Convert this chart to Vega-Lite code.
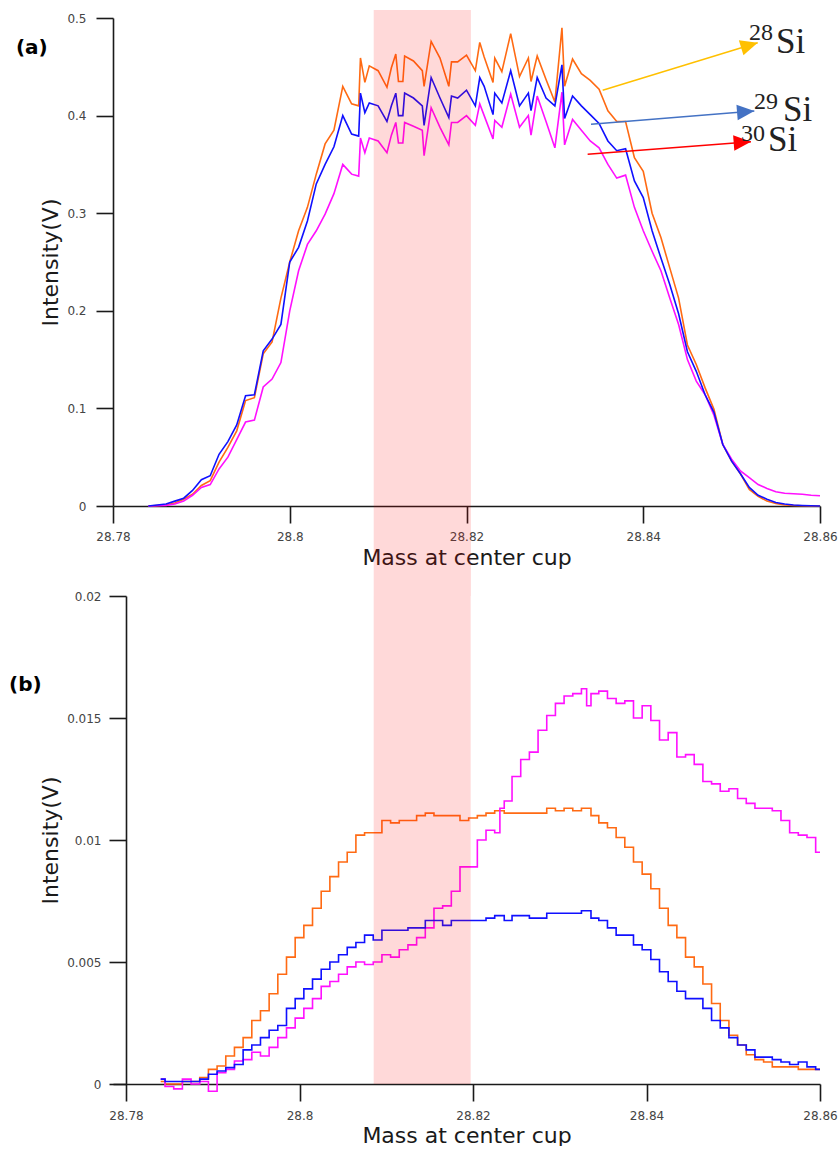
{
  "$schema": "https://vega.github.io/schema/vega-lite/v6.json",
  "padding": {"left": 8, "top": 9, "right": 0, "bottom": 0},
  "bounds": "flush",
  "spacing": 90,
  "config": {
    "view": {"stroke": null},
    "font": "DejaVu Sans",
    "axis": {
      "grid": false,
      "domainColor": "#1a1a1a",
      "domainWidth": 1.6,
      "tickColor": "#1a1a1a",
      "tickWidth": 1.6,
      "tickSize": 17,
      "labelFont": "DejaVu Sans",
      "labelFontSize": 12,
      "labelColor": "#444444",
      "titleFont": "DejaVu Sans",
      "titleFontSize": 22,
      "titleFontWeight": "normal",
      "titleColor": "#1a1a1a"
    }
  },
  "datasets": {
    "a": [
      {"m": 28.784, "Si28": 0, "Si29": 0, "Si30": 0},
      {"m": 28.785, "Si28": 0.0005, "Si29": 0.001, "Si30": 0.0002},
      {"m": 28.786, "Si28": 0.001, "Si29": 0.002, "Si30": 0.0005},
      {"m": 28.787, "Si28": 0.003, "Si29": 0.005, "Si30": 0.002},
      {"m": 28.788, "Si28": 0.007, "Si29": 0.008, "Si30": 0.005},
      {"m": 28.789, "Si28": 0.012, "Si29": 0.016, "Si30": 0.011},
      {"m": 28.790, "Si28": 0.021, "Si29": 0.027, "Si30": 0.019},
      {"m": 28.791, "Si28": 0.026, "Si29": 0.031, "Si30": 0.022},
      {"m": 28.792, "Si28": 0.045, "Si29": 0.053, "Si30": 0.038},
      {"m": 28.793, "Si28": 0.060, "Si29": 0.066, "Si30": 0.050},
      {"m": 28.794, "Si28": 0.077, "Si29": 0.083, "Si30": 0.068},
      {"m": 28.795, "Si28": 0.108, "Si29": 0.113, "Si30": 0.086},
      {"m": 28.796, "Si28": 0.111, "Si29": 0.114, "Si30": 0.088},
      {"m": 28.797, "Si28": 0.156, "Si29": 0.159, "Si30": 0.122},
      {"m": 28.798, "Si28": 0.168, "Si29": 0.171, "Si30": 0.130},
      {"m": 28.799, "Si28": 0.213, "Si29": 0.186, "Si30": 0.147},
      {"m": 28.800, "Si28": 0.250, "Si29": 0.250, "Si30": 0.200},
      {"m": 28.801, "Si28": 0.282, "Si29": 0.265, "Si30": 0.241},
      {"m": 28.802, "Si28": 0.306, "Si29": 0.292, "Si30": 0.268},
      {"m": 28.803, "Si28": 0.340, "Si29": 0.330, "Si30": 0.282},
      {"m": 28.804, "Si28": 0.371, "Si29": 0.350, "Si30": 0.299},
      {"m": 28.805, "Si28": 0.385, "Si29": 0.368, "Si30": 0.320},
      {"m": 28.806, "Si28": 0.430, "Si29": 0.400, "Si30": 0.350},
      {"m": 28.807, "Si28": 0.412, "Si29": 0.381, "Si30": 0.340},
      {"m": 28.8078, "Si28": 0.410, "Si29": 0.379, "Si30": 0.338},
      {"m": 28.808, "Si28": 0.459, "Si29": 0.423, "Si30": 0.377},
      {"m": 28.8085, "Si28": 0.434, "Si29": 0.403, "Si30": 0.362},
      {"m": 28.809, "Si28": 0.451, "Si29": 0.413, "Si30": 0.377},
      {"m": 28.810, "Si28": 0.446, "Si29": 0.410, "Si30": 0.374},
      {"m": 28.811, "Si28": 0.429, "Si29": 0.394, "Si30": 0.362},
      {"m": 28.8115, "Si28": 0.449, "Si29": 0.410, "Si30": 0.380},
      {"m": 28.812, "Si28": 0.463, "Si29": 0.423, "Si30": 0.393},
      {"m": 28.8123, "Si28": 0.435, "Si29": 0.400, "Si30": 0.372},
      {"m": 28.8128, "Si28": 0.435, "Si29": 0.400, "Si30": 0.372},
      {"m": 28.813, "Si28": 0.461, "Si29": 0.423, "Si30": 0.393},
      {"m": 28.814, "Si28": 0.456, "Si29": 0.418, "Si30": 0.389},
      {"m": 28.815, "Si28": 0.446, "Si29": 0.410, "Si30": 0.385},
      {"m": 28.8152, "Si28": 0.430, "Si29": 0.390, "Si30": 0.359},
      {"m": 28.816, "Si28": 0.476, "Si29": 0.439, "Si30": 0.408},
      {"m": 28.817, "Si28": 0.459, "Si29": 0.418, "Si30": 0.388},
      {"m": 28.818, "Si28": 0.430, "Si29": 0.398, "Si30": 0.370},
      {"m": 28.8183, "Si28": 0.455, "Si29": 0.420, "Si30": 0.393},
      {"m": 28.819, "Si28": 0.455, "Si29": 0.418, "Si30": 0.393},
      {"m": 28.820, "Si28": 0.462, "Si29": 0.426, "Si30": 0.400},
      {"m": 28.821, "Si28": 0.446, "Si29": 0.410, "Si30": 0.390},
      {"m": 28.8215, "Si28": 0.475, "Si29": 0.439, "Si30": 0.412},
      {"m": 28.822, "Si28": 0.460, "Si29": 0.430, "Si30": 0.400},
      {"m": 28.823, "Si28": 0.434, "Si29": 0.401, "Si30": 0.376},
      {"m": 28.8232, "Si28": 0.459, "Si29": 0.423, "Si30": 0.395},
      {"m": 28.824, "Si28": 0.445, "Si29": 0.413, "Si30": 0.388},
      {"m": 28.825, "Si28": 0.484, "Si29": 0.446, "Si30": 0.422},
      {"m": 28.826, "Si28": 0.440, "Si29": 0.410, "Si30": 0.388},
      {"m": 28.827, "Si28": 0.459, "Si29": 0.423, "Si30": 0.400},
      {"m": 28.8273, "Si28": 0.435, "Si29": 0.405, "Si30": 0.380},
      {"m": 28.828, "Si28": 0.461, "Si29": 0.439, "Si30": 0.420},
      {"m": 28.829, "Si28": 0.437, "Si29": 0.418, "Si30": 0.394},
      {"m": 28.830, "Si28": 0.414, "Si29": 0.410, "Si30": 0.367},
      {"m": 28.8308, "Si28": 0.490, "Si29": 0.452, "Si30": 0.424},
      {"m": 28.8311, "Si28": 0.430, "Si29": 0.397, "Si30": 0.370},
      {"m": 28.832, "Si28": 0.458, "Si29": 0.420, "Si30": 0.396},
      {"m": 28.833, "Si28": 0.443, "Si29": 0.410, "Si30": 0.385},
      {"m": 28.834, "Si28": 0.436, "Si29": 0.401, "Si30": 0.374},
      {"m": 28.835, "Si28": 0.427, "Si29": 0.392, "Si30": 0.367},
      {"m": 28.836, "Si28": 0.405, "Si29": 0.374, "Si30": 0.350},
      {"m": 28.837, "Si28": 0.394, "Si29": 0.364, "Si30": 0.336},
      {"m": 28.838, "Si28": 0.394, "Si29": 0.366, "Si30": 0.339},
      {"m": 28.839, "Si28": 0.357, "Si29": 0.333, "Si30": 0.306},
      {"m": 28.840, "Si28": 0.343, "Si29": 0.316, "Si30": 0.282},
      {"m": 28.841, "Si28": 0.300, "Si29": 0.282, "Si30": 0.261},
      {"m": 28.842, "Si28": 0.275, "Si29": 0.254, "Si30": 0.241},
      {"m": 28.843, "Si28": 0.244, "Si29": 0.227, "Si30": 0.213},
      {"m": 28.844, "Si28": 0.213, "Si29": 0.197, "Si30": 0.186},
      {"m": 28.845, "Si28": 0.165, "Si29": 0.158, "Si30": 0.150},
      {"m": 28.846, "Si28": 0.145, "Si29": 0.138, "Si30": 0.128},
      {"m": 28.847, "Si28": 0.121, "Si29": 0.114, "Si30": 0.114},
      {"m": 28.848, "Si28": 0.099, "Si29": 0.096, "Si30": 0.093},
      {"m": 28.849, "Si28": 0.063, "Si29": 0.063, "Si30": 0.063},
      {"m": 28.850, "Si28": 0.046, "Si29": 0.046, "Si30": 0.048},
      {"m": 28.851, "Si28": 0.033, "Si29": 0.033, "Si30": 0.036},
      {"m": 28.852, "Si28": 0.017, "Si29": 0.019, "Si30": 0.029},
      {"m": 28.853, "Si28": 0.010, "Si29": 0.011, "Si30": 0.022},
      {"m": 28.854, "Si28": 0.005, "Si29": 0.007, "Si30": 0.018},
      {"m": 28.855, "Si28": 0.0025, "Si29": 0.0035, "Si30": 0.0145},
      {"m": 28.856, "Si28": 0.001, "Si29": 0.002, "Si30": 0.013},
      {"m": 28.857, "Si28": 0.0005, "Si29": 0.001, "Si30": 0.0125},
      {"m": 28.858, "Si28": 0.0002, "Si29": 0.0005, "Si30": 0.012},
      {"m": 28.859, "Si28": 0, "Si29": 0.0002, "Si30": 0.011},
      {"m": 28.860, "Si28": 0, "Si29": 0, "Si30": 0.0105}
    ],
    "b": [
      {"m": 28.784, "Si28": 0.0001, "Si29": 0.0002, "Si30": 0.0002},
      {"m": 28.785, "Si28": 0, "Si29": 0.0001, "Si30": -0.0001},
      {"m": 28.786, "Si28": 0, "Si29": 0.0001, "Si30": -0.0002},
      {"m": 28.787, "Si28": 0.0001, "Si29": 0.0001, "Si30": 0.0002},
      {"m": 28.788, "Si28": 0.0001, "Si29": 0.0001, "Si30": 0},
      {"m": 28.789, "Si28": 0.00026, "Si29": 0.0002, "Si30": 0.0001},
      {"m": 28.790, "Si28": 0.0006, "Si29": 0.0004, "Si30": -0.0003},
      {"m": 28.791, "Si28": 0.00074, "Si29": 0.00053, "Si30": 0.00046},
      {"m": 28.792, "Si28": 0.00115, "Si29": 0.00067, "Si30": 0.0006},
      {"m": 28.793, "Si28": 0.0015, "Si29": 0.0008, "Si30": 0.00094},
      {"m": 28.794, "Si28": 0.0019, "Si29": 0.0014, "Si30": 0.001},
      {"m": 28.795, "Si28": 0.0026, "Si29": 0.0016, "Si30": 0.0013},
      {"m": 28.796, "Si28": 0.003, "Si29": 0.0019, "Si30": 0.00115},
      {"m": 28.797, "Si28": 0.0037, "Si29": 0.0022, "Si30": 0.0015},
      {"m": 28.798, "Si28": 0.0045, "Si29": 0.0024, "Si30": 0.0019},
      {"m": 28.799, "Si28": 0.0052, "Si29": 0.0031, "Si30": 0.0023},
      {"m": 28.800, "Si28": 0.006, "Si29": 0.0035, "Si30": 0.0027},
      {"m": 28.801, "Si28": 0.0065, "Si29": 0.0039, "Si30": 0.0031},
      {"m": 28.802, "Si28": 0.0072, "Si29": 0.0043, "Si30": 0.0035},
      {"m": 28.803, "Si28": 0.0079, "Si29": 0.0047, "Si30": 0.004},
      {"m": 28.804, "Si28": 0.0085, "Si29": 0.005, "Si30": 0.0042},
      {"m": 28.805, "Si28": 0.0091, "Si29": 0.0053, "Si30": 0.0045},
      {"m": 28.806, "Si28": 0.0095, "Si29": 0.0056, "Si30": 0.0048},
      {"m": 28.807, "Si28": 0.0102, "Si29": 0.0058, "Si30": 0.005},
      {"m": 28.808, "Si28": 0.0103, "Si29": 0.0061, "Si30": 0.0049},
      {"m": 28.809, "Si28": 0.0103, "Si29": 0.0059, "Si30": 0.005},
      {"m": 28.810, "Si28": 0.0108, "Si29": 0.0063, "Si30": 0.0053},
      {"m": 28.811, "Si28": 0.0107, "Si29": 0.0063, "Si30": 0.0052},
      {"m": 28.812, "Si28": 0.0108, "Si29": 0.0063, "Si30": 0.0055},
      {"m": 28.813, "Si28": 0.0108, "Si29": 0.0064, "Si30": 0.0057},
      {"m": 28.814, "Si28": 0.011, "Si29": 0.0064, "Si30": 0.006},
      {"m": 28.815, "Si28": 0.0111, "Si29": 0.0067, "Si30": 0.0064},
      {"m": 28.816, "Si28": 0.011, "Si29": 0.0067, "Si30": 0.0072},
      {"m": 28.817, "Si28": 0.011, "Si29": 0.0065, "Si30": 0.0073},
      {"m": 28.818, "Si28": 0.011, "Si29": 0.0067, "Si30": 0.0079},
      {"m": 28.819, "Si28": 0.0108, "Si29": 0.0067, "Si30": 0.0089},
      {"m": 28.820, "Si28": 0.0109, "Si29": 0.0067, "Si30": 0.0089},
      {"m": 28.821, "Si28": 0.011, "Si29": 0.0067, "Si30": 0.01},
      {"m": 28.822, "Si28": 0.0111, "Si29": 0.0068, "Si30": 0.0104},
      {"m": 28.823, "Si28": 0.0112, "Si29": 0.0069, "Si30": 0.0103},
      {"m": 28.8232, "Si28": 0.0112, "Si29": 0.0069, "Si30": 0.0113},
      {"m": 28.824, "Si28": 0.0111, "Si29": 0.0067, "Si30": 0.0116},
      {"m": 28.825, "Si28": 0.0111, "Si29": 0.0069, "Si30": 0.0126},
      {"m": 28.826, "Si28": 0.0111, "Si29": 0.0069, "Si30": 0.0133},
      {"m": 28.827, "Si28": 0.0111, "Si29": 0.0068, "Si30": 0.0136},
      {"m": 28.828, "Si28": 0.0111, "Si29": 0.0068, "Si30": 0.0145},
      {"m": 28.829, "Si28": 0.0113, "Si29": 0.007, "Si30": 0.0151},
      {"m": 28.830, "Si28": 0.0112, "Si29": 0.007, "Si30": 0.0156},
      {"m": 28.831, "Si28": 0.0113, "Si29": 0.007, "Si30": 0.0159},
      {"m": 28.832, "Si28": 0.0112, "Si29": 0.007, "Si30": 0.016},
      {"m": 28.833, "Si28": 0.0113, "Si29": 0.0071, "Si30": 0.0162},
      {"m": 28.8332, "Si28": 0.0113, "Si29": 0.0071, "Si30": 0.0155},
      {"m": 28.834, "Si28": 0.011, "Si29": 0.0068, "Si30": 0.016},
      {"m": 28.835, "Si28": 0.0107, "Si29": 0.0067, "Si30": 0.0161},
      {"m": 28.836, "Si28": 0.0105, "Si29": 0.0064, "Si30": 0.0158},
      {"m": 28.837, "Si28": 0.0101, "Si29": 0.0061, "Si30": 0.0156},
      {"m": 28.838, "Si28": 0.0097, "Si29": 0.0061, "Si30": 0.0157},
      {"m": 28.839, "Si28": 0.0091, "Si29": 0.0057, "Si30": 0.015},
      {"m": 28.840, "Si28": 0.0086, "Si29": 0.0055, "Si30": 0.0155},
      {"m": 28.841, "Si28": 0.008, "Si29": 0.0051, "Si30": 0.0149},
      {"m": 28.842, "Si28": 0.0072, "Si29": 0.0046, "Si30": 0.0141},
      {"m": 28.843, "Si28": 0.0065, "Si29": 0.0042, "Si30": 0.0144},
      {"m": 28.844, "Si28": 0.006, "Si29": 0.0038, "Si30": 0.0134},
      {"m": 28.845, "Si28": 0.0052, "Si29": 0.0035, "Si30": 0.0135},
      {"m": 28.846, "Si28": 0.0048, "Si29": 0.0035, "Si30": 0.0131},
      {"m": 28.847, "Si28": 0.0041, "Si29": 0.0031, "Si30": 0.0124},
      {"m": 28.848, "Si28": 0.0033, "Si29": 0.0026, "Si30": 0.0123},
      {"m": 28.849, "Si28": 0.0026, "Si29": 0.0023, "Si30": 0.012},
      {"m": 28.850, "Si28": 0.002, "Si29": 0.0019, "Si30": 0.0121},
      {"m": 28.851, "Si28": 0.0016, "Si29": 0.0016, "Si30": 0.0117},
      {"m": 28.852, "Si28": 0.0012, "Si29": 0.0014, "Si30": 0.0115},
      {"m": 28.853, "Si28": 0.001, "Si29": 0.0011, "Si30": 0.0113},
      {"m": 28.854, "Si28": 0.0009, "Si29": 0.0011, "Si30": 0.0113},
      {"m": 28.855, "Si28": 0.0007, "Si29": 0.001, "Si30": 0.0112},
      {"m": 28.856, "Si28": 0.0007, "Si29": 0.0009, "Si30": 0.0108},
      {"m": 28.857, "Si28": 0.0007, "Si29": 0.0008, "Si30": 0.0103},
      {"m": 28.858, "Si28": 0.0006, "Si29": 0.0009, "Si30": 0.0102},
      {"m": 28.859, "Si28": 0.0006, "Si29": 0.0007, "Si30": 0.0101},
      {"m": 28.860, "Si28": 0.0006, "Si29": 0.0006, "Si30": 0.0095}
    ],
    "arrows": [
      {"iso": "28Si", "m": 28.83541, "v": 0.4259, "m2": 28.85295, "v2": 0.4747},
      {"iso": "29Si", "m": 28.83409, "v": 0.3911, "m2": 28.85257, "v2": 0.4047},
      {"iso": "30Si", "m": 28.83371, "v": 0.3603, "m2": 28.85219, "v2": 0.3733}
    ],
    "heads": [
      {"iso": "28Si", "m": 28.85295, "v": 0.4747},
      {"iso": "29Si", "m": 28.85257, "v": 0.4047},
      {"iso": "30Si", "m": 28.85219, "v": 0.3733}
    ],
    "sups": [
      {"m": 28.85197, "v": 0.4775, "t": "28"},
      {"m": 28.85253, "v": 0.4068, "t": "29"},
      {"m": 28.85106, "v": 0.3740, "t": "30"}
    ],
    "mains": [
      {"m": 28.85502, "v": 0.4641, "t": "Si"},
      {"m": 28.85581, "v": 0.3945, "t": "Si"},
      {"m": 28.85412, "v": 0.3637, "t": "Si"}
    ],
    "tagA": [{"m": 28.76902, "v": 0.4631, "t": "(a)"}],
    "tagB": [{"m": 28.76651, "v": 0.016107, "t": "(b)"}],
    "bandA": [{"m": 28.8095, "m2": 28.8205, "v": -0.0922131, "v2": 0.5082}],
    "bandB": [{"m": 28.80855, "m2": 28.81973, "v": 0, "v2": 0.02}]
  },
  "vconcat": [
    {
      "width": 707,
      "height": 488,
      "encoding": {
        "x": {"field": "m", "type": "quantitative",
              "scale": {"domain": [28.78, 28.86], "nice": false, "zero": false},
              "axis": {"title": "Mass at center cup", "values": [28.78, 28.8, 28.82, 28.84, 28.86], "format": "~g", "labelFlush": false, "labelPadding": 8, "titlePadding": 5}},
        "y": {"field": "v", "type": "quantitative",
              "scale": {"domain": [0, 0.5], "nice": false, "zero": false},
              "axis": {"title": "Intensity(V)", "values": [0, 0.1, 0.2, 0.3, 0.4, 0.5], "format": "~g", "labelPadding": 10, "titlePadding": 4}}
      },
      "layer": [
        {
          "data": {"name": "a"},
          "transform": [{"fold": ["Si28", "Si30", "Si29"], "as": ["isotope", "v"]}],
          "mark": {"type": "line", "strokeWidth": 1.6},
          "encoding": {
            "color": {"field": "isotope", "type": "nominal",
                      "scale": {"domain": ["Si28", "Si29", "Si30"], "range": ["#FF6A13", "#1010FF", "#FF10FF"]},
                      "legend": null}
          }
        },
        {
          "data": {"name": "arrows"},
          "mark": {"type": "rule", "strokeWidth": 1.5},
          "encoding": {
            "x2": {"field": "m2"},
            "y2": {"field": "v2"},
            "stroke": {"field": "iso", "type": "nominal",
                       "scale": {"domain": ["28Si", "29Si", "30Si"], "range": ["#FFC000", "#4472C4", "#FF0000"]},
                       "legend": null}
          }
        },
        {
          "data": {"name": "heads"},
          "transform": [{"filter": "datum.iso == '28Si'"}],
          "mark": {"type": "point", "shape": "M-2,-0.9L0,0L-2,0.9Z", "size": 300, "filled": true, "fill": "#FFC000", "opacity": 1, "strokeWidth": 0, "angle": 342.9},
          "encoding": {}
        },
        {
          "data": {"name": "heads"},
          "transform": [{"filter": "datum.iso == '29Si'"}],
          "mark": {"type": "point", "shape": "M-2,-0.9L0,0L-2,0.9Z", "size": 300, "filled": true, "fill": "#4472C4", "opacity": 1, "strokeWidth": 0, "angle": 355.3},
          "encoding": {}
        },
        {
          "data": {"name": "heads"},
          "transform": [{"filter": "datum.iso == '30Si'"}],
          "mark": {"type": "point", "shape": "M-2,-0.9L0,0L-2,0.9Z", "size": 300, "filled": true, "fill": "#FF0000", "opacity": 1, "strokeWidth": 0, "angle": 355.6},
          "encoding": {}
        },
        {
          "data": {"name": "sups"},
          "mark": {"type": "text", "font": "Liberation Serif", "fontSize": 24, "align": "left", "baseline": "alphabetic", "color": "#222222"},
          "encoding": {"text": {"field": "t"}}
        },
        {
          "data": {"name": "mains"},
          "mark": {"type": "text", "font": "Liberation Serif", "fontSize": 35, "align": "left", "baseline": "alphabetic", "color": "#222222"},
          "encoding": {"text": {"field": "t"}}
        },
        {
          "data": {"name": "tagA"},
          "mark": {"type": "text", "font": "DejaVu Sans", "fontWeight": "bold", "fontSize": 20, "align": "left", "baseline": "alphabetic", "color": "#000000"},
          "encoding": {"text": {"field": "t"}}
        },
        {
          "data": {"name": "bandA"},
          "mark": {"type": "rect", "fill": "#FF0000", "fillOpacity": 0.15, "strokeWidth": 0},
          "encoding": {"x2": {"field": "m2"}, "y2": {"field": "v2"}}
        }
      ]
    },
    {
      "width": 707,
      "height": 488,
      "encoding": {
        "x": {"field": "m", "type": "quantitative",
              "scale": {"domain": [28.7785, 28.86], "nice": false, "zero": false},
              "axis": {"title": "Mass at center cup", "values": [28.78, 28.8, 28.82, 28.84, 28.86], "format": "~g", "labelFlush": false, "labelPadding": 9, "titlePadding": 4}},
        "y": {"field": "v", "type": "quantitative",
              "scale": {"domain": [0, 0.02], "nice": false, "zero": false},
              "axis": {"title": "Intensity(V)", "values": [0, 0.005, 0.01, 0.015, 0.02], "format": "~g", "labelPadding": 8, "titlePadding": 4, "offset": -13}}
      },
      "layer": [
        {
          "data": {"name": "b"},
          "transform": [{"fold": ["Si28", "Si30", "Si29"], "as": ["isotope", "v"]}],
          "mark": {"type": "line", "strokeWidth": 1.6, "interpolate": "step"},
          "encoding": {
            "color": {"field": "isotope", "type": "nominal",
                      "scale": {"domain": ["Si28", "Si29", "Si30"], "range": ["#FF6A13", "#1010FF", "#FF10FF"]},
                      "legend": null}
          }
        },
        {
          "data": {"name": "tagB"},
          "mark": {"type": "text", "font": "DejaVu Sans", "fontWeight": "bold", "fontSize": 20, "align": "left", "baseline": "alphabetic", "color": "#000000"},
          "encoding": {"text": {"field": "t"}}
        },
        {
          "data": {"name": "bandB"},
          "mark": {"type": "rect", "fill": "#FF0000", "fillOpacity": 0.15, "strokeWidth": 0},
          "encoding": {"x2": {"field": "m2"}, "y2": {"field": "v2"}}
        }
      ]
    }
  ]
}
